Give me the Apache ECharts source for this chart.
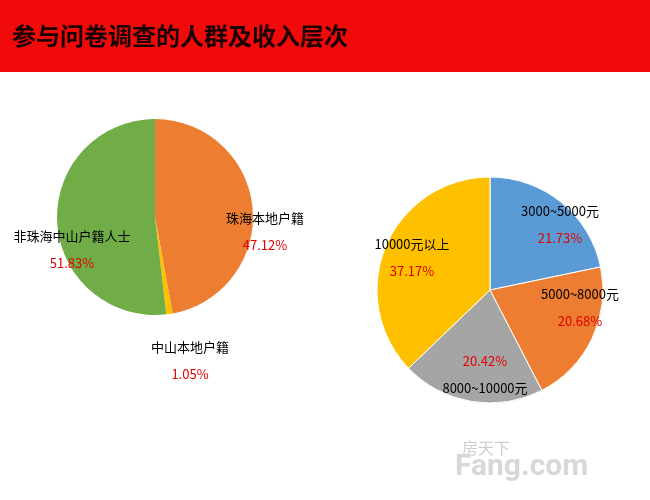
<!DOCTYPE html>
<html><head><meta charset="utf-8">
<script src="https://cdn.jsdelivr.net/npm/echarts@6/dist/echarts.min.js"></script>
<style>html,body{margin:0;padding:0;background:#fff}#main{width:650px;height:500px}</style>
</head><body><div id="main"></div>
<script>
var groupNames = ['珠海本地户籍', '中山本地户籍', '非珠海中山户籍人士'];
var groupValues = [47.12, 1.05, 51.83];
var incomeNames = ['3000~5000元', '5000~8000元', '8000~10000元', '10000元以上'];
var incomeValues = [21.73, 20.68, 20.42, 37.17];

// label anchor spots (pixels)
var groupSpots = [[265, 232], [190, 361], [72, 250]];
var incomeSpots = [[560, 225], [580, 308], [485, 375], [412, 258]];

var chart = echarts.init(document.getElementById('main'));
var rich = {
  n: { fontSize: 13, color: '#000', fontFamily: 'Noto Sans CJK SC', lineHeight: 27 },
  p: { fontSize: 13, color: '#e00000', fontFamily: 'Noto Sans CJK SC', lineHeight: 27 }
};
function makeData(names, values, colors) {
  return names.map(function (n, i) {
    return { name: n, value: values[i], itemStyle: { color: colors[i] } };
  });
}
function layoutFrom(spots) {
  return function (p) {
    return { x: spots[p.dataIndex][0], y: spots[p.dataIndex][1], align: 'center', verticalAlign: 'middle', hideOverlap: false };
  };
}
chart.setOption({
  animation: false,
  graphic: [
    { type: 'rect', shape: { x: 0, y: 0, width: 650, height: 72 }, style: { fill: '#f00a0a' } },
    { type: 'text', left: 12, top: 24, style: { text: '参与问卷调查的人群及收入层次', fontSize: 24, fontWeight: 'bold', fill: '#1a0000', fontFamily: 'Noto Sans CJK SC' } },
    { type: 'text', left: 462, top: 440, style: { text: '房天下', fontSize: 16, fill: '#cfcfcf', fontFamily: 'Noto Sans CJK SC' } },
    { type: 'text', left: 455, top: 452, style: { text: 'Fang.com', fontSize: 30, fontWeight: 'bold', fill: '#d8d8d8', fontFamily: 'Roboto' } }
  ],
  series: [
    {
      type: 'pie', center: [155, 217], radius: 98, startAngle: 90, clockwise: true,
      data: makeData(groupNames, groupValues, ['#ed7d31', '#ffc000', '#70ad47']),
      label: { show: true, position: 'inside', overflow: 'none', rich: rich, formatter: function (p) { return '{n|' + p.name + '}\n{p|' + p.value.toFixed(2) + '%}'; } },
      labelLine: { show: false },
      labelLayout: layoutFrom(groupSpots)
    },
    {
      type: 'pie', center: [490, 290], radius: 113, startAngle: 90, clockwise: true,
      data: makeData(incomeNames, incomeValues, ['#5b9bd5', '#ed7d31', '#a5a5a5', '#ffc000']),
      itemStyle: { borderColor: '#fff', borderWidth: 1 },
      label: { show: true, position: 'inside', overflow: 'none', rich: rich, formatter: function (p) {
        var a = '{n|' + p.name + '}', b = '{p|' + p.value.toFixed(2) + '%}';
        return p.dataIndex === 2 ? b + '\n' + a : a + '\n' + b;
      } },
      labelLine: { show: false },
      labelLayout: layoutFrom(incomeSpots)
    }
  ]
});
</script></body></html>
